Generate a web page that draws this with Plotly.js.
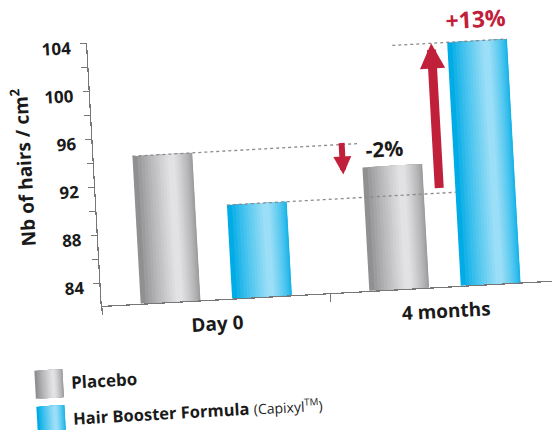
<!DOCTYPE html>
<html><head><meta charset="utf-8">
<script src="https://cdn.plot.ly/plotly-3.0.1.min.js"></script>
<style>
html,body{margin:0;padding:0;overflow:hidden;background:#fff;width:552px;height:430px;}
#chart{width:570px;height:430px;transform:rotate(-3.2deg);transform-origin:276px 215px;}
</style></head><body><div id="chart"></div>
<script>
// ---- data ----
const categories = ['Day 0', '4 months'];
const placebo = [94.4, 92.4];
const booster = [89.9, 102.4];
const seriesNames = ['Placebo', 'Hair Booster Formula'];
const changeLabels = ['-2%', '+13%'];
const yTickVals = [84, 88, 92, 96, 100, 104];

// ---- style ----
const FONT = 'Open Sans, Noto Sans, sans-serif';
const INK = '#1a1a1a';
const RED = '#c1203a';
const BAR_W = 0.26, OFF = 0.2;
const GRAY_EDGE = [144, 144, 146], GRAY_HI = [226, 226, 228];
const BLUE_EDGE = [0, 172, 230], BLUE_HI = [155, 222, 247];
const N_LAYERS = 12;

function mix(a, b, t) {
  return 'rgb(' + a.map((v, k) => Math.round(v + (b[k] - v) * t)).join(',') + ')';
}
// nested shading layers: [width fraction, centre shift fraction, colour t]
const layers = [];
for (let i = 0; i < N_LAYERS; i++) {
  const t = i / (N_LAYERS - 1);
  layers.push([1 - 0.88 * t, 0.15 * Math.sqrt(t), Math.pow(t, 0.8)]);
}

function layerTraces(name, vals, center, edge, hi) {
  return layers.map((l, i) => ({
    type: 'bar', x: categories, y: vals, name: name,
    width: BAR_W * l[0],
    offset: center + BAR_W * l[1] - BAR_W * l[0] / 2,
    marker: {color: mix(edge, hi, l[2]), line: {width: 0}},
    showlegend: false,
    hoverinfo: i ? 'skip' : 'x+y+name'
  }));
}

const traces = [
  ...layerTraces(seriesNames[0], placebo, -OFF, GRAY_EDGE, GRAY_HI),
  ...layerTraces(seriesNames[1], booster, OFF, BLUE_EDGE, BLUE_HI)
];

// layout geometry (px)
const W = 570, H = 430, L = 97, R = 15, T = 33, B = 134;
const PW = W - L - R, PH = H - T - B;
const px = v => (v - L) / PW;
const py = v => (H - B - v) / PH;

function dotted(x0, x1, y) {
  return {type: 'line', xref: 'x', yref: 'y', x0: x0, x1: x1, y0: y, y1: y,
    line: {color: '#8a8a8a', width: 1.3, dash: '3px,3px'}, layer: 'above'};
}
const leftEdge = (i, c) => i + c - BAR_W / 2;
const rightEdge = (i, c) => i + c + BAR_W / 2;

const shapes = [
  dotted(leftEdge(0, -OFF), leftEdge(1, -OFF) - 0.015, placebo[0]),
  dotted(leftEdge(0, OFF), leftEdge(1, OFF), booster[0]),
  dotted(0.83, rightEdge(1, OFF), booster[1])
];

// legend swatches
function swatch(x0, y0, size, edge, hi) {
  return layers.map(l => {
    const w = size * l[0], c = x0 + size / 2 + size * l[1];
    return {type: 'rect', xref: 'paper', yref: 'paper',
      x0: px(c - w / 2), x1: px(c + w / 2), y0: py(y0 + size), y1: py(y0),
      line: {width: 0}, fillcolor: mix(edge, hi, l[2]), layer: 'above'};
  });
}
shapes.push(...swatch(26, 357, 28, GRAY_EDGE, GRAY_HI));
shapes.push(...swatch(26, 393, 28, BLUE_EDGE, BLUE_HI));

const annotations = [
  // down arrow (placebo change)
  {x: leftEdge(1, -OFF) - 0.085, y: placebo[1] - 0.5, ax: leftEdge(1, -OFF) - 0.085, ay: placebo[0] + 0.25,
   xref: 'x', yref: 'y', axref: 'x', ayref: 'y', text: '', showarrow: true,
   arrowhead: 2, arrowwidth: 6, arrowsize: 0.6, arrowcolor: RED},
  // up arrow (booster change)
  {x: 1.0, y: booster[1], ax: 1.0, ay: booster[0] + 0.3,
   xref: 'x', yref: 'y', axref: 'x', ayref: 'y', text: '', showarrow: true,
   arrowhead: 2, arrowwidth: 9, arrowsize: 0.56, arrowcolor: RED},
  {x: 1 - OFF - 0.03, y: placebo[1], yshift: 1, xref: 'x', yref: 'y', text: changeLabels[0],
   showarrow: false, yanchor: 'bottom', font: {family: FONT, size: 21, weight: 700, color: INK}},
  {x: 1 + OFF, y: booster[1], yshift: 4, xref: 'x', yref: 'y', text: changeLabels[1],
   showarrow: false, yanchor: 'bottom', font: {family: FONT, size: 23, weight: 700, color: RED}},
  // y axis title
  {x: px(26), y: py(153.5), xref: 'paper', yref: 'paper', xanchor: 'center', yanchor: 'middle',
   textangle: -90, text: 'Nb of hairs / cm<sup>2</sup>', showarrow: false,
   font: {family: FONT, size: 19, weight: 700, color: INK}},
  // legend labels
  {x: px(60), y: py(370), xref: 'paper', yref: 'paper', xanchor: 'left', yanchor: 'middle',
   text: '<b>' + seriesNames[0] + '</b>', showarrow: false,
   font: {family: FONT, size: 17, color: INK}},
  {x: px(60), y: py(406), xref: 'paper', yref: 'paper', xanchor: 'left', yanchor: 'middle',
   text: '<b>' + seriesNames[1] + '</b> <span style="font-size:14px">(Capixyl<sup>TM</sup>)</span>', showarrow: false,
   font: {family: FONT, size: 16.5, color: INK}}
];

const layout = {
  width: W, height: H,
  margin: {l: L, r: R, t: T, b: B, pad: 0},
  paper_bgcolor: '#fff', plot_bgcolor: '#fff',
  barmode: 'overlay',
  showlegend: false,
  font: {family: FONT, color: INK},
  xaxis: {
    type: 'category', range: [-0.5, 1.5], tickson: 'boundaries',
    ticks: 'outside', ticklen: 8, tickcolor: '#777', tickwidth: 1.2,
    showline: true, linecolor: '#777', linewidth: 1.2, showgrid: false, zeroline: false,
    tickfont: {family: FONT, size: 19, weight: 700, color: INK},
    ticklabelstandoff: 7, fixedrange: true
  },
  yaxis: {
    range: [82.1, 104], tickvals: yTickVals, ticktext: yTickVals.map(String),
    ticks: 'outside', ticklen: 6, tickcolor: '#777', tickwidth: 1.2,
    minor: {tickvals: [86, 90, 94, 98, 102], ticks: 'outside', ticklen: 6, tickcolor: '#777', tickwidth: 1.2, showgrid: false},
    showline: true, linecolor: '#777', linewidth: 1.2, showgrid: false, zeroline: false,
    tickfont: {family: FONT, size: 17, weight: 700, color: INK},
    ticklabelstandoff: 6, ticklabelshift: 4,
    fixedrange: true
  },
  shapes: shapes,
  annotations: annotations
};

Plotly.newPlot('chart', traces, layout, {displayModeBar: false, staticPlot: true});
</script></body></html>
